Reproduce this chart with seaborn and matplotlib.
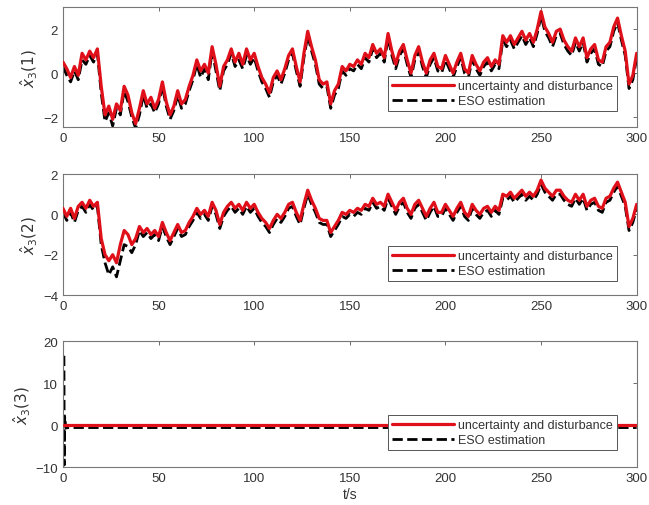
import numpy as np
import pandas as pd
import matplotlib
matplotlib.use("Agg")
import matplotlib.pyplot as plt
import seaborn as sns

# time axis, sampled every 2 s
t = np.arange(0, 301, 2)

# subplot 1: x3(1)
d1_true = [0.5, 0.2, -0.2, 0.3, -0.1, 0.9, 0.6, 1.0, 0.7, 1.1,
           -0.6, -1.9, -1.5, -2.1, -1.4, -1.7, -0.6, -1.0, -1.8, -2.3,
           -1.6, -0.8, -1.4, -1.1, -1.6, -1.2, -0.4, -1.3, -1.9, -1.5,
           -0.8, -1.4, -1.2, -0.6, -0.1, 0.6, 0.1, 0.4, 0.0, 1.2,
           0.4, -0.6, 0.3, 0.6, 1.1, 0.5, 0.9, 0.4, 1.1, 0.6,
           0.9, 0.3, -0.2, -0.5, -0.9, -0.2, 0.1, -0.3, 0.2, 0.8,
           1.1, 0.3, -0.4, 0.9, 1.9, 1.2, 0.6, -0.3, -0.5, -0.4,
           -1.4, -0.8, -0.5, 0.3, 0.1, 0.4, 0.3, 0.6, 0.4, 0.9,
           0.7, 1.3, 0.9, 1.1, 0.7, 1.8, 1.0, 0.4, 1.0, 1.3,
           0.6, 0.0, 0.8, 1.2, 0.5, 0.0, 0.6, 0.9, 0.3, 0.2,
           0.8, 0.4, 0.0, 0.5, 0.9, 0.2, 0.0, 0.8, 0.4, 0.1,
           0.5, 0.7, 0.3, 0.6, 0.4, 1.7, 1.4, 1.7, 1.3, 1.6,
           1.9, 1.5, 1.8, 1.4, 2.0, 2.8, 2.1, 1.8, 1.4, 1.9,
           2.0, 1.5, 1.2, 1.0, 1.6, 1.2, 1.6, 0.7, 1.1, 1.3,
           0.6, 0.5, 1.2, 1.4, 2.1, 2.5, 1.7, 1.0, -0.5, -0.1,
           0.9]
d1_est = [0.3, -0.1, -0.4, 0.1, -0.3, 0.6, 0.4, 0.8, 0.5, 0.9,
          -0.9, -2.2, -1.8, -2.4, -1.6, -1.9, -0.8, -1.3, -2.0, -2.5,
          -1.9, -1.0, -1.6, -1.4, -1.8, -1.4, -0.6, -1.5, -2.1, -1.7,
          -1.0, -1.6, -1.4, -0.8, -0.3, 0.4, -0.2, 0.2, -0.3, 1.0,
          0.1, -0.8, 0.1, 0.4, 0.9, 0.3, 0.6, 0.2, 0.8, 0.4,
          0.7, 0.1, -0.4, -0.7, -1.1, -0.4, -0.1, -0.5, 0.0, 0.6,
          0.9, 0.1, -0.6, 0.7, 1.7, 1.0, 0.4, -0.5, -0.7, -0.6,
          -1.6, -1.0, -0.7, 0.1, -0.1, 0.2, 0.1, 0.4, 0.2, 0.7,
          0.5, 1.1, 0.7, 0.9, 0.5, 1.6, 0.8, 0.2, 0.8, 1.1,
          0.4, -0.2, 0.6, 1.0, 0.3, -0.2, 0.4, 0.7, 0.1, 0.0,
          0.6, 0.2, -0.2, 0.3, 0.7, 0.0, -0.2, 0.6, 0.2, -0.1,
          0.3, 0.5, 0.1, 0.4, 0.2, 1.5, 1.2, 1.5, 1.1, 1.4,
          1.7, 1.3, 1.6, 1.2, 1.8, 2.6, 1.9, 1.6, 1.2, 1.7,
          1.8, 1.3, 1.0, 0.8, 1.4, 1.0, 1.4, 0.5, 0.9, 1.1,
          0.4, 0.3, 1.0, 1.2, 1.9, 2.3, 1.5, 0.8, -0.7, -0.3,
          0.7]

# subplot 2: x3(2)
d2_true = [0.3, -0.1, 0.3, -0.2, 0.4, 0.6, 0.3, 0.7, 0.4, 0.6,
           -1.2, -2.0, -2.3, -2.0, -2.4, -1.5, -0.8, -1.0, -1.5, -1.2,
           -0.6, -0.9, -0.7, -1.0, -0.8, -1.1, -0.4, -0.9, -1.3, -0.9,
           -0.5, -0.9, -0.8, -0.4, -0.1, 0.3, 0.0, 0.2, -0.1, 0.6,
           0.2, -0.5, 0.1, 0.4, 0.6, 0.3, 0.5, 0.2, 0.6, 0.3,
           0.5, 0.1, -0.2, -0.4, -0.7, -0.3, 0.0, -0.2, 0.1, 0.5,
           0.6, 0.1, -0.3, 0.5, 1.2, 0.7, 0.3, -0.2, -0.3, -0.3,
           -0.9, -0.6, -0.3, 0.1, 0.0, 0.2, 0.1, 0.3, 0.2, 0.5,
           0.4, 0.8, 0.5, 0.6, 0.4, 1.0, 0.6, 0.2, 0.6, 0.8,
           0.3, 0.0, 0.5, 0.7, 0.3, -0.1, 0.3, 0.6, 0.1, 0.1,
           0.5, 0.2, -0.1, 0.3, 0.6, 0.1, -0.1, 0.5, 0.2, 0.0,
           0.3, 0.4, 0.1, 0.4, 0.2, 1.0, 0.9, 1.1, 0.8, 1.0,
           1.2, 0.9, 1.1, 0.9, 1.2, 1.7, 1.3, 1.1, 0.9, 1.2,
           1.2, 0.9, 0.7, 0.6, 1.0, 0.7, 1.0, 0.4, 0.7, 0.8,
           0.4, 0.3, 0.8, 0.9, 1.3, 1.6, 1.1, 0.6, -0.6, -0.2,
           0.5]
d2_est = [0.1, -0.3, 0.1, -0.4, 0.2, 0.4, 0.1, 0.5, 0.2, 0.4,
          -1.5, -2.4, -3.0, -2.6, -3.1, -2.3, -1.5, -1.6, -1.9, -1.5,
          -0.8, -1.1, -0.9, -1.2, -1.0, -1.3, -0.6, -1.1, -1.5, -1.1,
          -0.7, -1.1, -1.0, -0.6, -0.3, 0.1, -0.2, 0.0, -0.3, 0.4,
          0.0, -0.7, -0.1, 0.2, 0.4, 0.1, 0.3, 0.0, 0.4, 0.1,
          0.3, -0.1, -0.4, -0.6, -0.9, -0.5, -0.2, -0.4, -0.1, 0.3,
          0.4, -0.1, -0.5, 0.3, 1.0, 0.5, 0.1, -0.4, -0.5, -0.5,
          -1.1, -0.8, -0.5, -0.1, -0.2, 0.0, -0.1, 0.1, 0.0, 0.3,
          0.2, 0.6, 0.3, 0.4, 0.2, 0.8, 0.4, 0.0, 0.4, 0.6,
          0.1, -0.2, 0.3, 0.5, 0.1, -0.3, 0.1, 0.4, -0.1, -0.1,
          0.3, 0.0, -0.3, 0.1, 0.4, -0.1, -0.3, 0.3, 0.0, -0.2,
          0.1, 0.2, -0.1, 0.2, 0.0, 0.8, 0.7, 0.9, 0.6, 0.8,
          1.0, 0.7, 0.9, 0.7, 1.0, 1.5, 1.1, 0.9, 0.7, 1.0,
          1.0, 0.7, 0.5, 0.4, 0.8, 0.5, 0.8, 0.2, 0.5, 0.6,
          0.2, 0.1, 0.6, 0.7, 1.1, 1.4, 0.9, 0.4, -0.8, -0.4,
          0.3]

# subplot 3: x3(3), big transient right at the start
t3 = [0.5, 0.7, 0.9, 1.5, 3.0, 300]
d3_true = [0.0, 0.0, 0.0, 0.0, 0.0, 0.0]
d3_est = [16.5, -9.5, 2.0, -0.7, -0.6, -0.6]

ylabels = [r'$\hat{x}_3(1)$', r'$\hat{x}_3(2)$', r'$\hat{x}_3(3)$']
ylims = [(-2.45, 3.0), (-4, 2), (-10, 20)]
yticks = [[-2, 0, 2], [-4, -2, 0, 2], [-10, 0, 10, 20]]

sns.set_style("white")
plt.rcParams['font.family'] = ['Liberation Sans', 'DejaVu Sans']
plt.rcParams['mathtext.fontset'] = 'dejavusans'

fig = plt.figure(figsize=(6.49, 5.06), dpi=100)
boxes = [
    [0.097, 0.747, 0.884, 0.237],
    [0.097, 0.415, 0.884, 0.239],
    [0.097, 0.075, 0.884, 0.249],
]
leg_y = [0.083, 0.066, 0.087]

series = [(t, d1_true, d1_est), (t, d2_true, d2_est), (t3, d3_true, d3_est)]

for i, (box, (tt, yt, ye)) in enumerate(zip(boxes, series)):
    ax = fig.add_axes(box)
    sns.lineplot(x=tt, y=ye, ax=ax, color='black', linestyle='--',
                 linewidth=2.0, label='ESO estimation', zorder=2)
    sns.lineplot(x=tt, y=yt, ax=ax, color='#e0101a', linewidth=2.3,
                 label='uncertainty and disturbance', zorder=3)
    ax.set_xlim(0, 300)
    ax.set_ylim(*ylims[i])
    ax.set_xticks([0, 50, 100, 150, 200, 250, 300])
    ax.set_yticks(yticks[i])
    ax.tick_params(direction='in', top=True, right=True, length=3,
                   width=0.6, colors='#555555', labelsize=9.5,
                   labelcolor='#333333')
    for s in ax.spines.values():
        s.set_color('#777777')
        s.set_linewidth(0.8)
    ax.set_ylabel(ylabels[i], fontsize=11, color='#333333', labelpad=2)
    h, l = ax.get_legend_handles_labels()
    leg = ax.legend(h[::-1], l[::-1], loc='lower right',
                    bbox_to_anchor=(0.976, leg_y[i]), fontsize=9,
                    fancybox=False, framealpha=1, edgecolor='#555555',
                    handlelength=5.0, borderpad=0.3, labelspacing=0.25,
                    handletextpad=0.3)
    leg.get_frame().set_linewidth(0.7)
    for txt in leg.get_texts():
        txt.set_color('#333333')
    if i == 2:
        ax.set_xlabel('t/s', fontsize=10, color='#333333', labelpad=2)

fig.savefig('out.png', dpi=100)
